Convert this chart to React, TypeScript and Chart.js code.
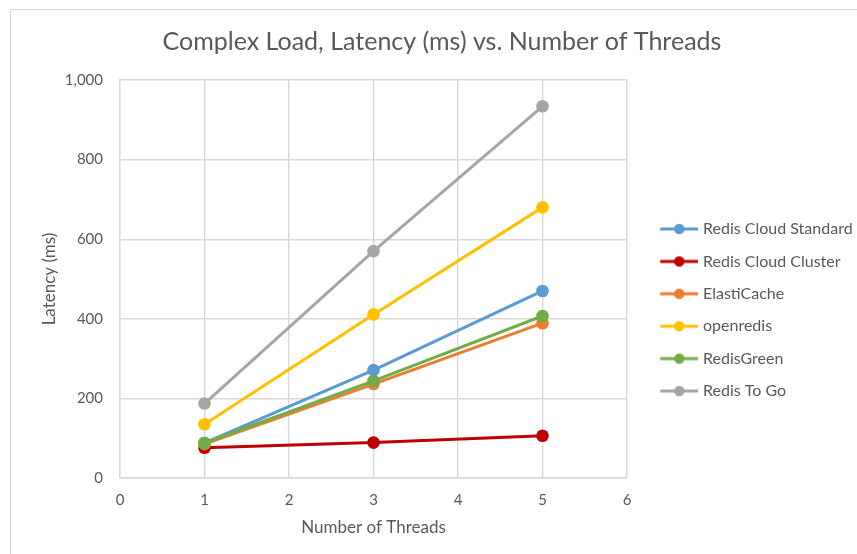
import React, { useEffect, useRef } from "react";
import { Chart, registerables } from "chart.js";

Chart.register(...registerables);

// ---- data ----
const threads = [1, 3, 5];
const seriesNames = [
  "Redis Cloud Standard",
  "Redis Cloud Cluster",
  "ElastiCache",
  "openredis",
  "RedisGreen",
  "Redis To Go",
];
const redisCloudStandard = [88, 271, 470];
const redisCloudCluster = [76, 89, 106];
const elastiCache = [85, 236, 389];
const openredis = [135, 411, 680];
const redisGreen = [88, 244, 407];
const redisToGo = [187, 570, 934];
const seriesValues = [redisCloudStandard, redisCloudCluster, elastiCache, openredis, redisGreen, redisToGo];
const seriesColors = ["#5B9BD5", "#C00000", "#ED7D31", "#FFC000", "#70AD47", "#A5A5A5"];
const xTickLabels = ["0", "1", "2", "3", "4", "5", "6"];
const yTickLabels = ["0", "200", "400", "600", "800", "1,000"];
const chartTitle = "Complex Load, Latency (ms) vs. Number of Threads";
const xTitle = "Number of Threads";
const yTitle = "Latency (ms)";

// ---- layout / style ----
const FONT = "Lato, 'Open Sans', sans-serif";
const TEXT = "#595959";
const GRID = "#d9d9d9";
const CW = 862;
const CH = 600;
const PLOT_LEFT = 109;
const PLOT_RIGHT = 616;
const LEGEND_FONT = 16;
const LEGEND_PAD = 16.4;
const POINT_W = 51.6;
const YTITLE_X = 39;

function makeIcon(color: string) {
  const c = document.createElement("canvas");
  c.width = 58;
  c.height = 14;
  const ctx = c.getContext("2d")!;
  ctx.strokeStyle = color;
  ctx.lineWidth = 3;
  ctx.beginPath();
  ctx.moveTo(20, 7);
  ctx.lineTo(58, 7);
  ctx.stroke();
  ctx.fillStyle = color;
  ctx.beginPath();
  ctx.arc(39, 7, 5.2, 0, Math.PI * 2);
  ctx.fill();
  return c;
}

export default function App() {
  const ref = useRef<HTMLCanvasElement>(null);

  useEffect(() => {
    const canvas = ref.current!;
    const mctx = document.createElement("canvas").getContext("2d")!;
    mctx.font = `${LEGEND_FONT}px ${FONT}`;
    const maxText = Math.max(...seriesNames.map((n) => mctx.measureText(n).width));
    const natural = 10 + LEGEND_PAD + POINT_W + LEGEND_FONT / 2 + maxText;
    const padRight = Math.max(0, CW - PLOT_RIGHT - natural);
    const padLeft = Math.min(padRight, 20);
    const icons = seriesColors.map((c) => makeIcon(c));
    const yTitleLh = 17 * 1.2;

    const chart = new Chart(canvas, {
      type: "line",
      data: {
        datasets: seriesNames.map((name, i) => ({
          label: name,
          data: threads.map((t, j) => ({ x: t, y: seriesValues[i][j] })),
          borderColor: seriesColors[i],
          backgroundColor: seriesColors[i],
          pointBackgroundColor: seriesColors[i],
          borderWidth: 3,
          pointRadius: 6.3,
          pointBorderWidth: 0,
          pointHoverRadius: 6.3,
          order: seriesNames.length - i,
          clip: false as any,
        })),
      },
      options: {
        responsive: false,
        animation: false,
        devicePixelRatio: window.devicePixelRatio || 1,
        layout: { padding: { left: padLeft, right: padRight, top: 0, bottom: 0 } },
        plugins: {
          tooltip: { enabled: false },
          title: {
            display: true,
            text: chartTitle,
            color: TEXT,
            font: { family: FONT, size: 25, weight: "normal" as any },
            padding: { top: 17, bottom: 23 },
          },
          legend: {
            display: true,
            position: "right",
            maxWidth: 500,
            labels: {
              usePointStyle: true,
              pointStyleWidth: POINT_W,
              padding: LEGEND_PAD,
              color: TEXT,
              font: { family: FONT, size: LEGEND_FONT },
              generateLabels: (ch: any) =>
                ch.data.datasets.map((ds: any, i: number) => ({
                  text: ds.label,
                  fillStyle: seriesColors[i],
                  strokeStyle: seriesColors[i],
                  fontColor: TEXT,
                  lineWidth: 0,
                  pointStyle: icons[i],
                  hidden: false,
                  datasetIndex: i,
                })),
            },
          },
        },
        scales: {
          x: {
            type: "linear",
            min: 0,
            max: 6,
            afterFit: (s: any) => {
              s.height = 132;
            },
            ticks: {
              stepSize: 1,
              padding: 13,
              color: TEXT,
              font: { family: FONT, size: 15 },
              callback: (_v: any, i: number) => xTickLabels[i],
            },
            grid: { color: GRID, lineWidth: 1.4, drawTicks: false },
            border: { color: GRID, width: 1.4 },
            title: {
              display: true,
              text: xTitle,
              color: TEXT,
              font: { family: FONT, size: 17 },
              padding: { top: 0, bottom: 71.8 },
            },
          },
          y: {
            type: "linear",
            min: 0,
            max: 1000,
            afterFit: (s: any) => {
              s.width = PLOT_LEFT - padLeft;
            },
            ticks: {
              stepSize: 200,
              padding: 17,
              color: TEXT,
              font: { family: FONT, size: 15 },
              callback: (_v: any, i: number) => yTickLabels[i],
            },
            grid: { color: GRID, lineWidth: 1.4, drawTicks: false },
            border: { color: GRID, width: 1.4 },
            title: {
              display: true,
              text: yTitle,
              color: TEXT,
              font: { family: FONT, size: 17 },
              padding: { top: Math.max(0, YTITLE_X - yTitleLh / 2 - padLeft), bottom: 0 },
            },
          },
        },
      },
    });
    return () => chart.destroy();
  }, []);

  return (
    <div
      style={{
        position: "fixed",
        left: 0,
        top: 0,
        width: 857,
        height: 554,
        overflow: "hidden",
        background: "#ffffff",
      }}
    >
      <div
        style={{
          position: "absolute",
          left: 10,
          top: 9,
          width: 1000,
          height: 1000,
          border: "1.5px solid #d6d6d6",
        }}
      />
      <canvas
        ref={ref}
        width={CW}
        height={CH}
        style={{ position: "absolute", left: 11, top: 10, width: CW, height: CH, display: "block" }}
      />
    </div>
  );
}
